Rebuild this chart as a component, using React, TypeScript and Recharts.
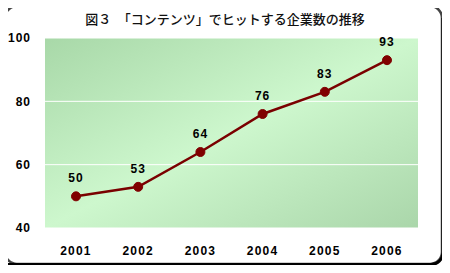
import React from "react";
import { CartesianGrid, LabelList, Line, LineChart, XAxis, YAxis } from "recharts";

const years = ["2001", "2002", "2003", "2004", "2005", "2006"];
const companies = [50, 53, 64, 76, 83, 93];
const yTicks = [40, 60, 80, 100];

const data = years.map((year, i) => ({ year, value: companies[i] }));

const FONT = "'Liberation Sans', Arial, sans-serif";

export default function App() {
  return (
    <div style={{ position: "relative", width: 450, height: 273, margin: -8, background: "#fff" }}>
      <div style={{ position: "absolute", left: 0, top: 0 }}>
        <LineChart width={450} height={273} data={data} margin={{ top: 38, right: 32, bottom: 0, left: 0 }}>
          <defs>
            <linearGradient id="plotBg" x1="0" y1="0" x2="1" y2="1">
              <stop offset="0%" stopColor="#a8d8a8" />
              <stop offset="50%" stopColor="#cdf7cd" />
              <stop offset="100%" stopColor="#aad6aa" />
            </linearGradient>
          </defs>
          <CartesianGrid vertical={false} stroke="#ffffff" strokeWidth={1} fill="url(#plotBg)" fillOpacity={1} />
          <XAxis
            dataKey="year"
            axisLine={false}
            tickLine={false}
            tickSize={0}
            tickMargin={18}
            height={45}
            padding={{ left: 31, right: 31 }}
            tick={{ fill: "#000", fontSize: 12, fontWeight: 700, fontFamily: FONT, letterSpacing: 1.2 }}
          />
          <YAxis
            domain={[40, 100]}
            ticks={yTicks}
            axisLine={false}
            tickLine={false}
            tickSize={0}
            tickMargin={14}
            width={45}
            tick={{ fill: "#000", fontSize: 12, fontWeight: 700, fontFamily: FONT, letterSpacing: 1 }}
          />
          <Line
            type="linear"
            dataKey="value"
            stroke="#7a0000"
            strokeWidth={2.5}
            dot={{ r: 4.5, fill: "#800000", stroke: "#800000", strokeWidth: 1 }}
            isAnimationActive={false}
          >
            <LabelList
              dataKey="value"
              position="top"
              offset={14}
              style={{ fill: "#000", fontSize: 12, fontWeight: 700, fontFamily: FONT, letterSpacing: 1 }}
            />
          </Line>
        </LineChart>
      </div>
      <svg width={450} height={273} style={{ position: "absolute", left: 0, top: 0, pointerEvents: "none" }}>
        <rect x={5} y={6} width={437} height={258} rx={12} fill="none" stroke="#444" strokeWidth={2.5} />
        <path
          d="M 8 264.5 L 431 264.5 A 12 12 0 0 0 443 252.5 L 443 18"
          fill="none"
          stroke="#000"
          strokeWidth={3}
        />
      </svg>
      <div
        style={{
          position: "absolute",
          top: 9,
          left: 0,
          width: 450,
          textAlign: "center",
          fontFamily: "'Noto Sans CJK JP', sans-serif",
          fontSize: 13,
          fontWeight: 500,
          color: "#111",
        }}
      >
        図３　「コンテンツ」でヒットする企業数の推移
      </div>
    </div>
  );
}
